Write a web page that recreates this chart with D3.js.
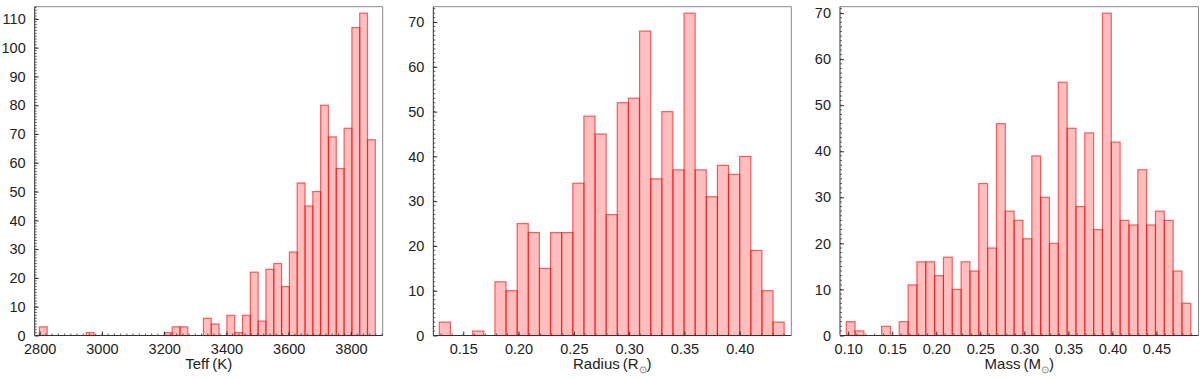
<!DOCTYPE html>
<html>
<head>
<meta charset="utf-8">
<script src="https://cdn.jsdelivr.net/npm/d3@7"></script>
<style>
  body { margin: 0; background: #fff; }
  text { font-family: "Liberation Sans", Arial, sans-serif; fill: #222; }
</style>
</head>
<body>
<div id="chart"></div>
<script>
// histogram counts, one entry per bin
var teffCounts = [3,0,0,0,0,0,1,0,0,0,0,0,0,0,0,0,1,3,3,0,0,6,4,0,7,1,7,22,5,23,25,17,29,53,45,50,80,69,58,72,107,112,68];
var radiusCounts = [3,0,0,1,0,12,10,25,23,15,23,23,34,49,45,27,52,53,68,35,50,37,72,37,31,38,36,40,19,10,3];
var massCounts = [3,1,0,0,2,0,3,11,16,16,13,17,10,16,14,33,19,46,27,25,21,39,30,20,55,45,28,44,23,70,42,25,24,36,24,27,25,14,7];

// first bin edge and bin width
var teffBins = [2799, 25.1];
var radiusBins = [0.1283, 0.01006];
var massBins = [0.0978, 0.01003];

var teffTicks = [2800, 3000, 3200, 3400, 3600, 3800];
var radiusTicks = [0.15, 0.20, 0.25, 0.30, 0.35, 0.40];
var massTicks = [0.10, 0.15, 0.20, 0.25, 0.30, 0.35, 0.40, 0.45];

var svgWidth = 1200;
var svgHeight = 380;

var svg = d3.select("#chart")
.append("svg")
.attr("width", svgWidth)
.attr("height", svgHeight);

var plotTop = 6.7, plotBottom = 335.5;

var panels = [
  {counts: teffCounts, bins: teffBins, ticks: teffTicks, fmt: d3.format("d"),
   domain: [2784, 3902], left: 34.7, right: 382.7, minorX: 20, label: ["Teff\u2009(K)", null]},
  {counts: radiusCounts, bins: radiusBins, ticks: radiusTicks, fmt: d3.format(".2f"),
   domain: [0.1229, 0.4466], left: 433.3, right: 791.3, minorX: 0.01, label: ["Radius\u2009(R", ")"]},
  {counts: massCounts, bins: massBins, ticks: massTicks, fmt: d3.format(".2f"),
   domain: [0.0907, 0.4977], left: 840, right: 1198.5, minorX: 0.01, label: ["Mass\u2009(M", ")"]}
];

panels.forEach(function(p) {
  var x = d3.scaleLinear().domain(p.domain).range([p.left, p.right]);
  var ymax = d3.max(p.counts) * 1.02;
  var y = d3.scaleLinear().domain([0, ymax]).range([plotBottom, plotTop]);

  var g = svg.append("g");

  // bars (empty bins skipped)
  p.counts.forEach(function(c, i) {
    if (c <= 0) return;
    var x0 = x(p.bins[0] + i * p.bins[1]);
    var x1 = x(p.bins[0] + (i + 1) * p.bins[1]);
    g.append("rect")
    .attr("x", x0)
    .attr("width", x1 - x0)
    .attr("y", y(c))
    .attr("height", plotBottom - y(c))
    .attr("fill", "rgba(255,0,0,0.25)")
    .attr("stroke", "rgba(255,0,0,0.6)")
    .attr("stroke-width", 1.2);
  });

  // frame: top/right grey, left/bottom dark
  g.append("line").attr("x1", p.left).attr("x2", p.right).attr("y1", plotTop).attr("y2", plotTop)
  .attr("stroke", "#888").attr("stroke-width", 1);
  g.append("line").attr("x1", p.right).attr("x2", p.right).attr("y1", plotTop).attr("y2", plotBottom)
  .attr("stroke", "#888").attr("stroke-width", 1);

  // minor ticks, inward
  var yMinor = d3.range(0, ymax, 1);
  g.selectAll(".ym").data(yMinor).enter().append("line")
  .attr("x1", p.left).attr("x2", p.left + 2)
  .attr("y1", function(d) { return y(d); }).attr("y2", function(d) { return y(d); })
  .attr("stroke", "#333").attr("stroke-width", 0.8);
  var xMinor = d3.range(Math.ceil(p.domain[0] / p.minorX), Math.floor(p.domain[1] / p.minorX) + 1)
  .map(function(k) { return k * p.minorX; });
  g.selectAll(".xm").data(xMinor).enter().append("line")
  .attr("x1", function(d) { return x(d); }).attr("x2", function(d) { return x(d); })
  .attr("y1", plotBottom).attr("y2", plotBottom - 2)
  .attr("stroke", "#333").attr("stroke-width", 0.8);

  // major ticks + labels
  var yTicks = d3.range(0, ymax, 10);
  var leftAxis = d3.axisLeft(y).tickValues(yTicks).tickSize(-4).tickPadding(9).tickFormat(d3.format("d"));
  var bottomAxis = d3.axisBottom(x).tickValues(p.ticks).tickSize(-4).tickPadding(8).tickFormat(p.fmt);

  var ly = g.append("g").attr("transform", "translate(" + p.left + ",0)").call(leftAxis);
  var lx = g.append("g").attr("transform", "translate(0," + plotBottom + ")").call(bottomAxis);
  [ly, lx].forEach(function(a) {
    a.select(".domain").attr("stroke", "#333").attr("stroke-width", 1);
    a.selectAll(".tick line").attr("stroke", "#333");
    a.selectAll(".tick text").style("font-family", "Liberation Sans, Arial, sans-serif")
    .style("font-size", "14.5px").attr("fill", "#222");
  });
  lx.select(".domain").attr("d", "M" + p.left + ",0H" + p.right);
  ly.select(".domain").attr("d", "M0," + (plotTop - plotBottom) + "V0").attr("transform", "translate(0," + plotBottom + ")");

  // axis label
  var t = g.append("text")
  .attr("x", (p.left + p.right) / 2)
  .attr("y", 369)
  .attr("text-anchor", "middle")
  .style("font-size", "15px");
  t.append("tspan").text(p.label[0]);
  if (p.label[1]) {
    t.append("tspan").attr("dy", 4).style("font-size", "10px").attr("fill", "#777").text("\u2299");
    t.append("tspan").attr("dy", -4).text(p.label[1]);
  }
});
</script>
</body>
</html>
